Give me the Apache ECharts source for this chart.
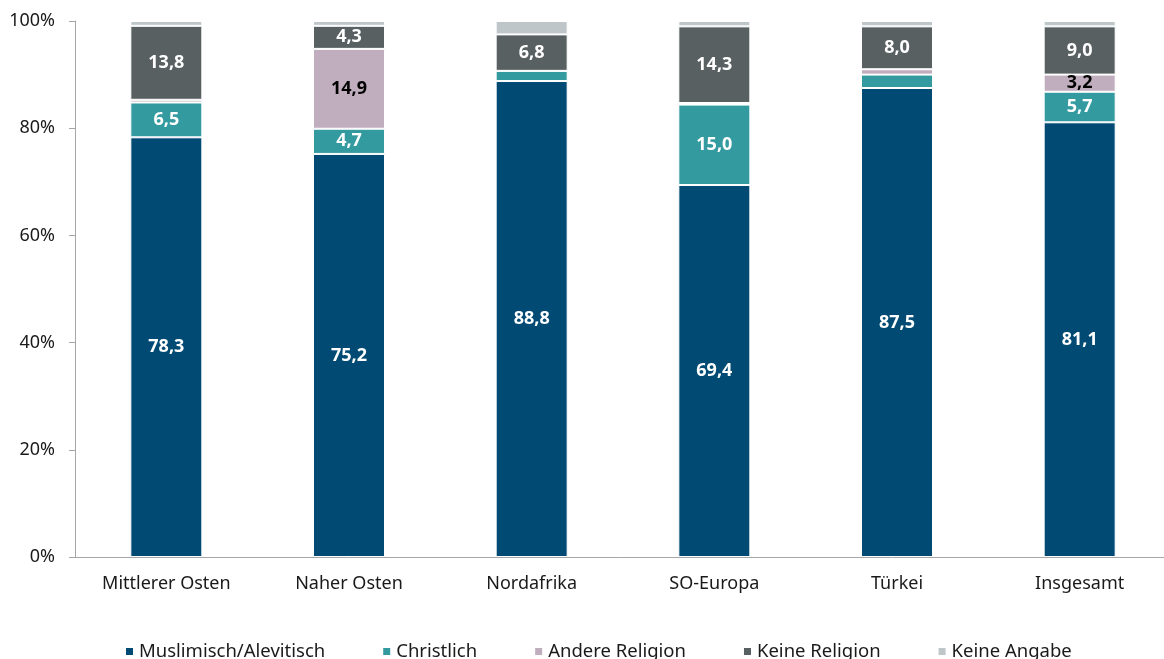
<!DOCTYPE html>
<html>
<head>
<meta charset="utf-8">
<script src="https://cdn.jsdelivr.net/npm/echarts@6/dist/echarts.min.js"></script>
<style>
html,body{margin:0;padding:0;background:#fff;}
#chart{width:1164px;height:659px;}
</style>
</head>
<body>
<div id="chart"></div>
<script>
const categories = ['Mittlerer Osten', 'Naher Osten', 'Nordafrika', 'SO-Europa', 'Türkei', 'Insgesamt'];
const seriesNames = ['Muslimisch/Alevitisch', 'Christlich', 'Andere Religion', 'Keine Religion', 'Keine Angabe'];
const muslimisch = [78.3, 75.2, 88.8, 69.4, 87.5, 81.1];
const christlich = [6.5, 4.7, 1.9, 15.0, 2.5, 5.7];
const andere = [0.5, 14.9, 0.0, 0.3, 1.0, 3.2];
const keineReligion = [13.8, 4.3, 6.8, 14.3, 8.0, 9.0];
const keineAngabe = [0.9, 0.9, 2.5, 1.0, 1.0, 1.0];
const yTicks = [0, 20, 40, 60, 80, 100];

const colors = ['#004a73', '#339aa0', '#c0adbd', '#586062', '#bfc6ca'];
const labelColors = ['#ffffff', '#ffffff', '#000000', '#ffffff', '#ffffff'];
const values = [muslimisch, christlich, andere, keineReligion, keineAngabe];
const FONT = '"Noto Sans", sans-serif';

const chart = echarts.init(document.getElementById('chart'));
chart.setOption({
  animation: false,
  textStyle: { fontFamily: FONT },
  grid: { left: 75, right: -7, top: 21, bottom: 102, containLabel: false, outerBoundsMode: 'none' },
  legend: {
    left: 119,
    top: 637,
    itemWidth: 9, itemHeight: 9, itemGap: 56,
    icon: 'rect',
    textStyle: { fontSize: 18.5, color: '#1a1a1a', fontFamily: FONT },
    data: seriesNames
  },
  xAxis: {
    type: 'category',
    data: categories,
    axisLine: { lineStyle: { color: '#a6a6a6', width: 1 } },
    axisTick: { show: false },
    axisLabel: { fontSize: 18, color: '#1a1a1a', margin: 18, fontFamily: FONT }
  },
  yAxis: {
    type: 'value',
    min: yTicks[0], max: yTicks[yTicks.length - 1], interval: 20,
    axisLine: { show: true, lineStyle: { color: '#a6a6a6', width: 1 } },
    axisTick: { show: true, length: 6, lineStyle: { color: '#a6a6a6' } },
    splitLine: { show: false },
    axisLabel: { fontSize: 18, color: '#1a1a1a', margin: 20, formatter: v => v + '%', fontFamily: FONT }
  },
  series: seriesNames.map((name, i) => ({
    name,
    type: 'bar',
    stack: 'total',
    barWidth: 72,
    data: values[i],
    itemStyle: { color: colors[i], borderColor: '#ffffff', borderWidth: 1 },
    label: {
      show: true,
      position: 'inside',
      color: labelColors[i],
      fontSize: 18,
      fontWeight: 'bold',
      fontFamily: FONT,
      formatter: p => p.value >= 3 ? p.value.toFixed(1).replace('.', ',') : ''
    }
  }))
});
</script>
</body>
</html>
